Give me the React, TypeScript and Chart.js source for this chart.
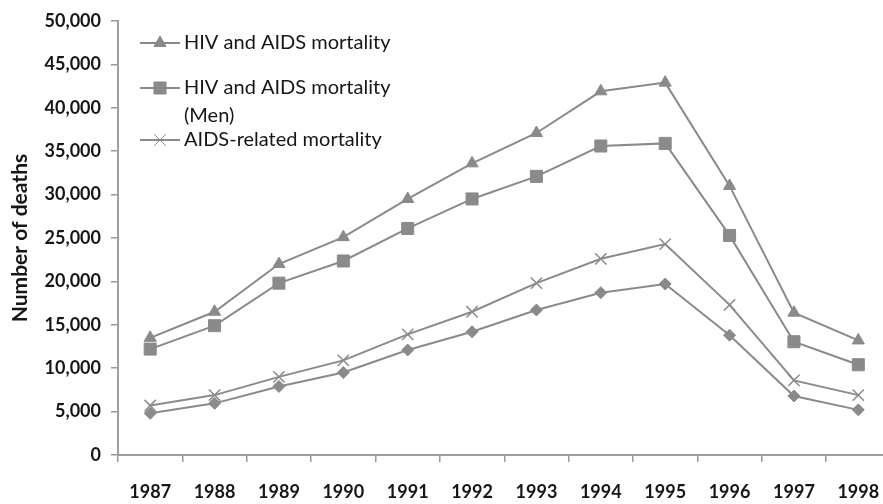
import React, { useEffect, useRef } from "react";
import { Chart, registerables } from "chart.js";
import { drawPoint } from "chart.js/helpers";

Chart.register(...registerables);

const years = ["1987", "1988", "1989", "1990", "1991", "1992", "1993", "1994", "1995", "1996", "1997", "1998"];
const hivAidsMortality = [13500, 16500, 22000, 25100, 29500, 33600, 37100, 41900, 42900, 31000, 16400, 13200];
const hivAidsMortalityMen = [12200, 14900, 19800, 22350, 26100, 29500, 32100, 35600, 35900, 25300, 13050, 10400];
const aidsRelatedMortality = [5700, 6900, 9000, 10900, 13900, 16500, 19800, 22600, 24300, 17300, 8600, 6900];
const fourthSeries = [4800, 5950, 7900, 9500, 12100, 14200, 16700, 18700, 19700, 13800, 6800, 5200];
const legendLabels: (string | string[])[] = [
  "HIV and AIDS mortality",
  ["HIV and AIDS mortality", "(Men)"],
  "AIDS-related mortality",
];
const yTitle = "Number of deaths";

const GREY = "#8a8a8a";
const TEXT = "#161616";
const FONT = "Lato, 'Open Sans', sans-serif";

const legendPlugin = {
  id: "customLegend",
  afterDraw(chart: any) {
    const ctx = chart.ctx;
    const rows = [43, 88, 140];
    ctx.save();
    legendLabels.forEach((lbl, i) => {
      const ds = chart.data.datasets[i];
      const y = rows[i];
      ctx.strokeStyle = GREY;
      ctx.fillStyle = GREY;
      ctx.lineWidth = 2;
      ctx.beginPath();
      ctx.moveTo(140, y);
      ctx.lineTo(180, y);
      ctx.stroke();
      ctx.lineWidth = 1;
      drawPoint(ctx, { pointStyle: ds.pointStyle, radius: ds.pointRadius, rotation: 0, borderWidth: ds.pointStyle === "crossRot" ? 1.5 : 1 }, 160, y);
      ctx.fillStyle = TEXT;
      ctx.font = `20px ${FONT}`;
      ctx.textBaseline = "middle";
      ctx.textAlign = "left";
      const lines = Array.isArray(lbl) ? lbl : [lbl];
      lines.forEach((t, j) => ctx.fillText(t, 184, y + j * 28));
    });
    ctx.restore();
  },
};

export default function App() {
  const ref = useRef<HTMLCanvasElement>(null);
  useEffect(() => {
    if (!ref.current) return;
    const mk = (label: string, data: number[], style: string, r: number) => ({
      label,
      data,
      borderColor: GREY,
      backgroundColor: GREY,
      pointBackgroundColor: GREY,
      pointBorderColor: GREY,
      borderWidth: 2,
      pointStyle: style,
      pointRadius: r,
      pointBorderWidth: style === "crossRot" ? 1.5 : 1,
      tension: 0,
    });
    const chart = new Chart(ref.current, {
      type: "line",
      data: {
        labels: years,
        datasets: [
          mk("HIV and AIDS mortality", hivAidsMortality, "triangle", 7),
          mk("HIV and AIDS mortality (Men)", hivAidsMortalityMen, "rect", 8.5),
          mk("AIDS-related mortality", aidsRelatedMortality, "crossRot", 8),
          mk("AIDS mortality", fourthSeries, "rectRot", 6),
        ],
      },
      options: {
        animation: false,
        responsive: false,
        maintainAspectRatio: false,
        layout: { padding: { top: 21, right: 5, bottom: 0, left: 0 } },
        plugins: { legend: { display: false }, tooltip: { enabled: false } },
        scales: {
          x: {
            offset: true,
            grid: { drawOnChartArea: false, offset: true, tickLength: 7, color: "#999", lineWidth: 1.5 },
            border: { display: true, color: "#a0a0a0", width: 2 },
            ticks: { color: TEXT, font: { family: FONT, size: 18, weight: "bold" }, padding: 19, maxRotation: 0, autoSkip: false },
            afterFit: (s: any) => { s.height = 49; },
          },
          y: {
            min: 0,
            max: 50000,
            grid: { drawOnChartArea: false, tickLength: 7, color: "#999", lineWidth: 1.5 },
            border: { display: true, color: "#a0a0a0", width: 2 },
            ticks: {
              stepSize: 5000,
              color: TEXT,
              padding: 10,
              font: { family: FONT, size: 18, weight: "bold" },
              callback: (v: any) => Number(v).toLocaleString("en-US"),
            },
            title: { display: true, text: yTitle, color: TEXT, font: { family: FONT, size: 21, weight: "bold" }, padding: { top: 8, bottom: 0 } },
            afterFit: (s: any) => { s.width = 118; },
          },
        },
      },
      plugins: [legendPlugin],
    } as any);
    return () => chart.destroy();
  }, []);
  return (
    <div style={{ position: "fixed", left: 0, top: 0, width: 883, height: 504, overflow: "hidden", background: "#fff" }}>
      <canvas ref={ref} width={900} height={504} style={{ width: 900, height: 504, display: "block" }} />
    </div>
  );
}
